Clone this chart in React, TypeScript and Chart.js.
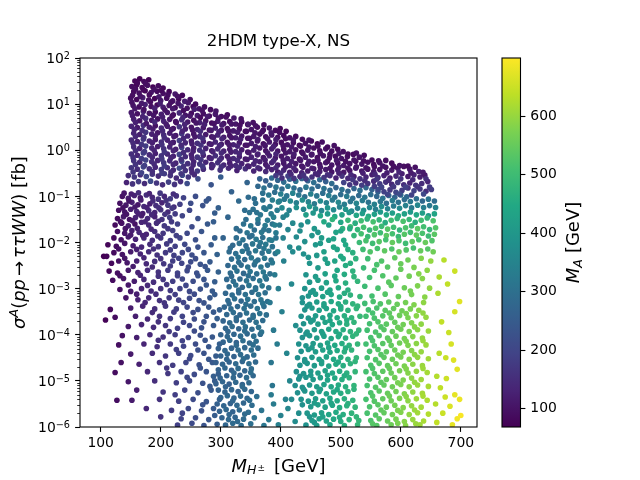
import React, { useEffect, useRef } from 'react';
import Chart from 'chart.js/auto';

// each point: [M_H± in GeV, log10 of sigma in fb, M_A in GeV]
const upperBand: number[][] = [
  [157,1.5,78],[165,1.55,70],[172,1.49,86],[180,1.53,74],
  [152,1.38,90],[160,1.42,76],[169,1.36,83],[178,1.41,98],[187,1.37,72],[196,1.4,88],[204,1.35,80],
  [155,1.27,84],[164,1.24,95],[174,1.29,78],[184,1.25,104],[194,1.28,86],[204,1.23,92],[214,1.27,75],[224,1.22,110],
  [150,1.13,96],[160,1.1,82],[170,1.14,118],[180,1.09,90],[190,1.12,76],[200,1.08,105],[210,1.13,88],[220,1.07,99],[230,1.11,80],[240,1.06,122],[249,1.1,93],
  [154,0.97,102],[164,0.94,88],[174,0.99,126],[184,0.95,94],[194,0.98,80],[204,0.93,112],[214,0.97,96],[224,0.92,86],[234,0.96,132],[244,0.91,98],[254,0.95,84],[264,0.9,108],[273,0.94,91],
  [151,0.82,112],[161,0.79,96],[171,0.84,134],[181,0.8,100],[191,0.83,87],[201,0.78,120],[211,0.82,103],[221,0.77,90],[231,0.81,140],[241,0.76,104],[251,0.8,88],[261,0.75,116],[271,0.79,95],[281,0.74,82],[291,0.78,109],[301,0.73,92],[311,0.77,84],
  [155,0.67,120],[165,0.64,104],[175,0.69,146],[185,0.65,110],[195,0.68,94],[205,0.63,128],[215,0.67,108],[225,0.62,96],[235,0.66,150],[245,0.61,112],[255,0.65,95],[265,0.6,125],[275,0.64,101],[285,0.59,88],[295,0.63,117],[305,0.58,99],[315,0.62,86],[325,0.57,106],[335,0.61,90],[345,0.56,80],[354,0.6,97],
  [151,0.52,128],[161,0.49,110],[171,0.54,156],[181,0.5,118],[191,0.53,100],[201,0.48,138],[211,0.52,114],[221,0.47,102],[231,0.51,160],[241,0.46,120],[251,0.5,101],[261,0.45,134],[271,0.49,108],[281,0.44,94],[291,0.48,125],[301,0.43,106],[311,0.47,92],[321,0.42,114],[331,0.46,97],[341,0.41,86],[351,0.45,104],[361,0.5,92],[371,0.44,83],[381,0.48,99],[391,0.43,88],[399,0.47,80],
  [155,0.37,135],[165,0.34,118],[175,0.39,165],[185,0.35,124],[195,0.38,106],[205,0.33,146],[215,0.37,120],[225,0.32,108],[235,0.36,170],[245,0.31,128],[255,0.35,107],[265,0.3,142],[275,0.34,114],[285,0.29,100],[295,0.33,132],[305,0.28,112],[315,0.32,98],[325,0.27,120],[335,0.31,103],[345,0.26,92],[355,0.3,110],[365,0.35,97],[375,0.29,88],[385,0.33,104],[395,0.28,93],[405,0.32,84],[415,0.27,98],[425,0.3,86],
  [151,0.22,140],[161,0.19,122],[171,0.24,172],[181,0.2,130],[191,0.23,112],[201,0.18,150],[211,0.22,126],[221,0.17,114],[231,0.21,176],[241,0.16,134],[251,0.2,112],[261,0.15,148],[271,0.19,120],[281,0.14,104],[291,0.18,138],[301,0.13,118],[311,0.17,102],[321,0.12,126],[331,0.16,108],[341,0.11,96],[351,0.15,116],[361,0.2,102],[371,0.14,92],[381,0.18,110],[391,0.13,98],[401,0.17,88],[411,0.12,104],[421,0.16,92],[431,0.11,84],[441,0.15,100],[451,0.2,88],[461,0.14,80],[469,0.18,94],
  [155,0.07,145],[165,0.04,128],[175,0.09,180],[185,0.05,136],[195,0.08,118],[205,0.03,156],[215,0.07,132],[225,0.02,120],[235,0.06,184],[245,0.01,140],[255,0.05,118],[265,0,154],[275,0.04,126],[285,-0.01,110],[295,0.03,144],[305,-0.02,124],[315,0.02,108],[325,-0.03,132],[335,0.01,114],[345,-0.04,102],[355,0,122],[365,0.05,108],[375,-0.01,98],[385,0.03,116],[395,-0.02,104],[405,0.02,94],[415,-0.03,110],[425,0.01,98],[435,-0.04,90],[445,0,106],[455,0.05,94],[465,-0.01,86],[475,0.03,100],[485,-0.02,92],[495,0.02,84],[504,-0.03,96],
  [151,-0.08,150],[161,-0.11,134],[171,-0.06,186],[181,-0.1,142],[191,-0.07,124],[201,-0.12,162],[211,-0.08,138],[221,-0.13,126],[231,-0.09,190],[241,-0.14,146],[251,-0.1,124],[261,-0.15,160],[271,-0.11,132],[281,-0.16,116],[291,-0.12,150],[301,-0.17,130],[311,-0.13,114],[321,-0.18,138],[331,-0.14,120],[341,-0.19,108],[351,-0.15,128],[361,-0.1,114],[371,-0.16,104],[381,-0.12,122],[391,-0.17,110],[401,-0.13,100],[411,-0.18,116],[421,-0.14,104],[431,-0.19,96],[441,-0.15,112],[451,-0.1,100],[461,-0.16,92],[471,-0.12,106],[481,-0.17,98],[491,-0.13,90],[501,-0.18,104],[511,-0.14,94],[521,-0.09,86],[531,-0.15,100],[539,-0.11,90],
  [155,-0.23,156],[165,-0.26,140],[175,-0.21,192],[185,-0.25,148],[195,-0.22,130],[205,-0.27,168],[215,-0.23,144],[225,-0.28,132],[235,-0.24,196],[245,-0.29,152],[255,-0.25,130],[265,-0.3,166],[275,-0.26,138],[285,-0.31,122],[295,-0.27,156],[305,-0.32,136],[315,-0.28,120],[325,-0.33,144],[335,-0.29,126],[345,-0.34,114],[355,-0.3,134],[365,-0.25,120],[375,-0.31,110],[385,-0.27,128],[395,-0.32,116],[405,-0.28,106],[415,-0.33,122],[425,-0.29,110],[435,-0.34,102],[445,-0.3,118],[455,-0.25,106],[465,-0.31,98],[475,-0.27,112],[485,-0.32,104],[495,-0.28,96],[505,-0.33,110],[515,-0.29,100],[525,-0.24,92],[535,-0.3,106],[545,-0.26,96],[555,-0.31,88],[565,-0.27,102],[575,-0.22,92],[585,-0.28,84],
  [151,-0.38,162],[161,-0.41,146],[171,-0.36,198],[181,-0.4,154],[191,-0.37,136],[201,-0.42,174],[211,-0.38,150],[221,-0.43,138],[231,-0.39,202],[241,-0.44,158],[251,-0.4,136],[261,-0.45,172],[271,-0.41,144],[285,-0.38,130],[299,-0.43,162],[313,-0.39,140],[327,-0.44,126],[341,-0.4,150],[355,-0.45,132],[365,-0.4,120],[375,-0.46,140],[385,-0.42,126],[395,-0.47,116],[405,-0.43,134],[415,-0.48,120],[425,-0.44,112],[435,-0.49,130],[445,-0.45,116],[455,-0.4,108],[465,-0.46,124],[475,-0.42,114],[485,-0.47,106],[495,-0.43,122],[505,-0.48,110],[515,-0.44,102],[525,-0.39,118],[535,-0.45,106],[545,-0.41,98],[555,-0.46,114],[565,-0.42,102],[575,-0.37,96],[585,-0.43,110],[595,-0.39,100],[605,-0.35,92],[615,-0.41,106],[624,-0.37,96],
  [146,-0.55,150],[156,-0.58,170],[166,-0.53,140],[176,-0.57,204],[186,-0.52,160],[196,-0.56,142],[206,-0.51,180],[216,-0.55,156],[226,-0.6,144],[236,-0.54,208],[246,-0.58,164],[256,-0.53,146],
  [392,-0.55,170],[402,-0.6,150],[412,-0.56,186],[422,-0.61,160],[432,-0.57,140],[442,-0.62,176],[452,-0.58,152],[462,-0.53,134],[472,-0.59,168],[482,-0.55,146],[492,-0.6,128],[502,-0.56,160],[512,-0.61,140],[522,-0.57,124],[532,-0.62,150],[542,-0.58,132],[552,-0.53,120],[562,-0.59,144],[572,-0.55,128],[582,-0.6,116],[592,-0.56,138],[602,-0.51,122],[612,-0.57,112],[622,-0.53,130],[632,-0.58,118],[640,-0.54,108],
  [143,-0.7,130],[153,-0.73,160],[163,-0.68,176],[173,-0.72,146],[183,-0.67,210],[193,-0.71,166],[203,-0.75,150],[213,-0.69,186],[223,-0.74,162],[233,-0.68,150],[244,-0.72,214],
  [505,-0.7,190],[515,-0.75,168],[525,-0.71,150],[535,-0.76,180],[545,-0.72,160],[555,-0.67,142],[565,-0.73,176],[575,-0.69,156],[585,-0.74,138],[595,-0.7,170],[605,-0.75,150],[615,-0.71,134],[625,-0.76,164],[635,-0.72,146],[645,-0.68,130],
  [562,-0.85,210],[572,-0.9,186],[582,-0.86,170],[592,-0.91,198],[602,-0.87,176],[612,-0.82,160],[622,-0.88,190],[632,-0.84,168],[642,-0.89,150],[651,-0.85,180],
];

const upperFill: number[][] = [
  [161,1.46,80],[175,1.44,92],
  [158,1.33,88],[171,1.31,80],[189,1.32,96],[201,1.3,84],
  [153,1.19,92],[166,1.17,100],[181,1.2,86],[197,1.16,110],[212,1.2,90],[228,1.17,98],[236,1.19,84],
  [152,1.04,100],[168,1.02,112],[183,1.05,92],[199,1.01,120],[217,1.04,94],[229,1.02,104],[246,1.03,110],[258,1,88],
  [157,0.9,108],[172,0.88,96],[190,0.91,124],[207,0.87,100],[220,0.9,112],[238,0.86,92],[256,0.89,120],[269,0.86,98],[283,0.88,88],[292,0.85,104],
  [153,0.75,116],[170,0.73,130],[188,0.76,102],[203,0.72,118],[219,0.74,96],[237,0.71,134],[249,0.74,108],[266,0.71,90],[278,0.73,114],[296,0.7,100],[309,0.72,92],[322,0.7,110],[334,0.68,96],
  [158,0.6,124],[176,0.58,110],[190,0.61,140],[209,0.57,116],[226,0.6,100],[240,0.56,132],[259,0.59,106],[273,0.56,122],[289,0.58,98],[302,0.55,114],[318,0.57,104],[332,0.54,92],[346,0.56,110],[358,0.53,98],[372,0.55,88],
  [156,0.45,130],[169,0.43,150],[187,0.46,116],[203,0.42,140],[218,0.45,112],[236,0.41,128],[253,0.44,104],[266,0.41,146],[284,0.43,110],[297,0.4,124],[313,0.42,100],[328,0.39,116],[343,0.41,94],[357,0.38,108],[369,0.4,96],[384,0.38,112],[398,0.39,90],[409,0.41,82],
  [158,0.3,138],[172,0.28,160],[191,0.31,120],[206,0.27,150],[222,0.3,118],[238,0.26,136],[257,0.29,112],[270,0.26,150],[288,0.28,116],[302,0.25,130],[318,0.27,106],[333,0.24,122],[348,0.26,98],[362,0.23,114],[378,0.25,100],[392,0.23,118],[408,0.25,94],[421,0.22,106],[436,0.24,88],[447,0.22,98],
  [154,0.15,144],[168,0.13,168],[186,0.16,126],[202,0.12,158],[217,0.15,124],[234,0.11,142],[252,0.14,118],[267,0.11,156],[284,0.13,122],[298,0.1,136],[314,0.12,112],[328,0.09,128],[344,0.11,104],[358,0.08,120],[374,0.1,106],[388,0.08,124],[404,0.1,100],[418,0.07,112],[433,0.09,94],[447,0.07,104],[462,0.09,92],[478,0.07,86],[489,0.1,96],
  [158,-0.01,150],[173,-0.03,176],[189,0,132],[206,-0.04,164],[221,-0.01,130],[238,-0.05,148],[254,-0.02,124],[270,-0.05,160],[287,-0.03,128],[301,-0.06,142],[317,-0.04,118],[331,-0.07,134],[347,-0.05,110],[362,-0.08,126],[378,-0.06,112],[392,-0.08,130],[408,-0.06,106],[422,-0.09,118],[437,-0.07,100],[452,-0.09,110],[466,-0.07,98],[482,-0.09,92],[497,-0.07,104],[512,-0.08,88],[526,-0.06,96],
  [154,-0.16,154],[168,-0.18,180],[186,-0.15,138],[202,-0.19,170],[217,-0.16,136],[234,-0.2,154],[252,-0.17,130],[267,-0.2,166],[284,-0.18,134],[298,-0.21,148],[314,-0.19,124],[328,-0.22,140],[344,-0.2,116],[358,-0.23,132],[374,-0.21,118],[388,-0.23,136],[404,-0.21,112],[418,-0.24,124],[433,-0.22,106],[447,-0.24,116],[462,-0.22,104],[478,-0.24,98],[493,-0.22,110],[508,-0.24,96],[522,-0.21,102],[538,-0.23,94],[552,-0.21,90],[563,-0.23,98],
  [158,-0.31,160],[173,-0.33,186],[189,-0.3,144],[206,-0.34,176],[221,-0.31,142],[238,-0.35,160],[254,-0.32,136],[270,-0.35,172],[287,-0.33,140],[301,-0.36,154],[317,-0.34,130],[331,-0.37,146],[347,-0.35,122],[362,-0.38,138],[378,-0.36,124],[392,-0.38,142],[408,-0.36,118],[422,-0.39,130],[437,-0.37,112],[452,-0.39,122],[466,-0.37,110],[482,-0.39,104],[497,-0.37,116],[512,-0.39,102],[526,-0.36,108],[542,-0.38,100],[556,-0.36,96],[570,-0.34,104],[588,-0.35,92],[598,-0.33,100],[612,-0.34,88],
  [154,-0.47,166],[168,-0.49,190],[186,-0.46,150],[202,-0.5,180],[217,-0.47,148],[234,-0.51,166],[252,-0.48,140],[400,-0.5,150],[417,-0.52,140],[438,-0.54,156],[458,-0.51,134],[478,-0.53,150],[497,-0.5,128],[517,-0.53,142],[537,-0.5,124],[557,-0.52,138],[577,-0.49,120],[597,-0.47,132],[617,-0.49,114],[630,-0.46,124],[637,-0.48,110],
  [520,-0.64,170],[540,-0.66,150],[560,-0.63,166],[580,-0.65,144],[600,-0.62,160],[620,-0.64,140],[642,-0.62,150],[556,-0.78,176],[568,-0.8,190],[588,-0.79,170],[608,-0.8,184],[628,-0.79,162],[648,-0.8,176],[578,-0.96,196],[598,-0.95,214],[618,-0.97,190],[638,-0.95,206],
];

const tealBand: number[][] = [
  [365,-0.62,262],[375,-0.66,250],[385,-0.6,280],[395,-0.65,268],[405,-0.69,290],[415,-0.63,258],[425,-0.67,300],[435,-0.61,276],[445,-0.66,262],[455,-0.7,294],[465,-0.64,270],[475,-0.68,256],[485,-0.72,286],
  [362,-0.78,280],[372,-0.82,300],[382,-0.76,272],[392,-0.8,310],[402,-0.84,288],[412,-0.78,320],[422,-0.82,296],[432,-0.86,280],[442,-0.8,312],[452,-0.84,292],[462,-0.78,276],[472,-0.83,306],[482,-0.87,286],[492,-0.81,270],[502,-0.85,300],[512,-0.89,282],[522,-0.83,266],[532,-0.87,296],[542,-0.81,278],[552,-0.85,262],[562,-0.9,256],
  [370,-0.93,300],[380,-0.97,320],[390,-0.91,292],[400,-0.95,336],[410,-0.99,310],[420,-0.93,346],[430,-0.97,318],[440,-1.01,300],[450,-0.95,340],[460,-0.99,314],[470,-0.93,296],[480,-0.98,332],[490,-1.02,308],[500,-0.96,290],[510,-1,326],[520,-1.04,300],[530,-0.98,282],[540,-1.02,314],[550,-0.96,294],[560,-1,276],[570,-1.04,306],[580,-0.98,284],[590,-1.02,268],[600,-0.97,296],[610,-1.01,274],
  [386,-1.08,330],[396,-1.12,350],[406,-1.06,320],[416,-1.1,364],[426,-1.14,338],[436,-1.08,372],[446,-1.12,346],[456,-1.16,326],[466,-1.1,366],[476,-1.14,340],[486,-1.08,322],[496,-1.13,358],[506,-1.17,332],[516,-1.11,314],[526,-1.15,350],[536,-1.09,326],[546,-1.13,306],[556,-1.17,340],[566,-1.11,316],[576,-1.15,298],[586,-1.09,330],[596,-1.13,306],[606,-1.07,290],[616,-1.11,318],[626,-1.05,296],[636,-1.1,280],[646,-1.06,310],[656,-1.1,290],
  [402,-1.25,360],[414,-1.3,340],[426,-1.24,384],[438,-1.28,356],[448,-1.22,400],[458,-1.27,372],[468,-1.31,352],[478,-1.25,394],[488,-1.29,366],[498,-1.23,346],[508,-1.28,388],[518,-1.32,360],[528,-1.26,340],[538,-1.3,380],[548,-1.24,352],[558,-1.28,334],[568,-1.22,372],[578,-1.27,346],[588,-1.21,328],[598,-1.26,364],[608,-1.2,340],[618,-1.25,322],[628,-1.19,356],[638,-1.24,334],[648,-1.2,318],[658,-1.24,346],
  [442,-1.4,420],[454,-1.36,396],[466,-1.42,436],[478,-1.38,410],[490,-1.44,448],[502,-1.4,420],[514,-1.35,400],[526,-1.41,440],[536,-1.37,414],[546,-1.43,452],[556,-1.39,424],[566,-1.34,404],[576,-1.4,444],[586,-1.36,418],[596,-1.42,456],[606,-1.38,428],[616,-1.34,406],[626,-1.4,446],[636,-1.36,420],[646,-1.42,400],[656,-1.38,436],
  [472,-1.55,450],[486,-1.5,476],[500,-1.56,440],[512,-1.52,488],[524,-1.58,460],[534,-1.53,500],[544,-1.49,470],[554,-1.55,512],[564,-1.51,480],[574,-1.57,458],[584,-1.52,500],[594,-1.48,474],[604,-1.54,516],[614,-1.5,486],[624,-1.56,462],[634,-1.52,504],[644,-1.47,478],[654,-1.53,520],
  [503,-1.7,470],[516,-1.66,496],[528,-1.72,482],[538,-1.67,510],[548,-1.73,486],[558,-1.69,520],[568,-1.65,494],[578,-1.71,530],[588,-1.67,502],[598,-1.73,480],[608,-1.68,520],[618,-1.64,496],[628,-1.7,536],[638,-1.66,506],[648,-1.72,488],[658,-1.68,528],
  [522,-1.85,480],[534,-1.81,508],[545,-1.87,490],[556,-1.83,524],[566,-1.79,500],[576,-1.85,536],[586,-1.81,510],[596,-1.87,490],[606,-1.82,530],[616,-1.78,504],[626,-1.84,540],[636,-1.8,514],[646,-1.86,496],[656,-1.82,534],
  [531,-2,494],[542,-1.96,514],[553,-2.02,500],[564,-1.98,532],[575,-1.94,510],[586,-2,546],[597,-1.96,520],[608,-2.02,500],[619,-1.98,540],[630,-1.94,516],[641,-2,550],[652,-1.96,524],
  [537,-2.15,500],[549,-2.2,524],[561,-2.13,510],[573,-2.18,540],[585,-2.14,520],[597,-2.2,552],[609,-2.16,528],[621,-2.12,510],[633,-2.18,548],[645,-2.14,530],[654,-2.2,560],
  [348,-1.35,300],[362,-1.5,318],[375,-1.28,330],[388,-1.45,340],[398,-1.62,322],[372,-1.72,310],[410,-1.4,352],[420,-1.58,360],[432,-1.75,372],[445,-1.55,384],[456,-1.7,398],[468,-1.9,410],[480,-1.62,420],[492,-1.78,430],[505,-1.95,440],[515,-1.7,452],[458,-2.05,400],[472,-2.2,420],[488,-2.1,436],[500,-2.3,446],[512,-2.15,460],[525,-2.35,470],[438,-2.25,380],[448,-2.45,392],[462,-2.55,404],[478,-2.45,424],[494,-2.6,440],[508,-2.5,456],[520,-2.62,470],[415,-2.1,362],[404,-1.9,346],[385,-1.95,330],[352,-1.85,296],[366,-2,316],[395,-2.2,340],
];

const tealFill: number[][] = [
  [346,-1.02,286],[358,-1.15,296],[370,-1.08,306],[382,-1.22,318],[394,-1.3,330],[354,-1.28,300],[366,-1.4,312],[378,-1.52,322],[390,-1.62,334],[404,-1.45,344],[342,-1.5,292],[360,-1.35,304],[384,-1.38,326],[398,-1.1,336],[372,-1.25,314],
  [412,-1.72,350],[426,-1.88,366],[440,-1.98,378],[452,-1.85,392],[466,-2.02,404],[480,-1.95,420],[494,-2.15,432],[508,-2.05,446],[520,-2.22,462],[430,-2.12,372],[446,-2.32,388],[460,-2.28,400],[474,-2.36,416],[490,-2.4,432],[504,-2.35,448],[516,-2.45,462],[434,-1.62,370],[462,-1.78,398],[488,-1.92,426],[500,-1.75,438],
];

const leftFan: number[][] = [
  [136,-1,100],[146,-1.04,118],[156,-0.98,130],[166,-1.03,112],[176,-0.97,150],[186,-1.02,136],[196,-1.06,160],[206,-1,140],[216,-1.05,176],[226,-0.99,156],[238,-1.03,190],[258,-1,214],[280,-1.05,236],
  [132,-1.15,96],[142,-1.19,110],[152,-1.13,126],[162,-1.18,106],[172,-1.22,140],[182,-1.16,124],[192,-1.2,150],[202,-1.14,130],[212,-1.19,168],[222,-1.23,148],[232,-1.17,184],[270,-1.2,226],
  [130,-1.3,92],[140,-1.34,104],[150,-1.28,120],[160,-1.33,138],[170,-1.37,118],[180,-1.31,146],[190,-1.35,130],[200,-1.29,160],[212,-1.34,142],[224,-1.38,176],[248,-1.3,200],[290,-1.36,250],
  [128,-1.48,88],[138,-1.44,112],[148,-1.5,100],[158,-1.46,130],[168,-1.42,116],[178,-1.48,144],[190,-1.44,124],[202,-1.5,158],[215,-1.46,178],[236,-1.42,196],[262,-1.48,222],
  [124,-1.62,84],[135,-1.58,100],[146,-1.64,118],[157,-1.6,96],[168,-1.56,134],[180,-1.62,140],[193,-1.58,152],[206,-1.64,170],[228,-1.6,190],[252,-1.66,210],[278,-1.6,240],
  [128,-1.76,94],[140,-1.8,108],[152,-1.74,122],[164,-1.78,136],[176,-1.82,128],[190,-1.76,156],[204,-1.8,166],[220,-1.74,184],[244,-1.8,206],[268,-1.76,232],
  [122,-1.9,82],[134,-1.94,98],[146,-1.88,112],[158,-1.93,128],[172,-1.9,142],[186,-1.95,150],[200,-1.9,164],[216,-1.96,180],[232,-1.9,196],[258,-1.94,220],[290,-1.9,258],
  [105,-2.3,70],[112,-2.05,78],[126,-2.08,90],[140,-2.02,104],[154,-2.07,120],[168,-2.1,136],[182,-2.04,148],[196,-2.09,162],[210,-2.03,176],[224,-2.08,186],[240,-2.04,204],[262,-2.1,224],[284,-2.05,248],
  [110,-2.3,74],[122,-2.22,86],[136,-2.26,100],[150,-2.2,114],[166,-2.25,130],[180,-2.2,146],[194,-2.27,158],[208,-2.22,172],[222,-2.28,184],[236,-2.22,198],[252,-2.27,214],[272,-2.22,236],[294,-2.26,262],
  [118,-2.45,82],[130,-2.4,94],[144,-2.44,108],[160,-2.4,126],[176,-2.46,140],[190,-2.41,154],[205,-2.46,168],[220,-2.4,182],[235,-2.45,196],[250,-2.42,210],[266,-2.47,228],[282,-2.42,244],
  [114,-2.62,80],[128,-2.66,92],[146,-2.6,110],[162,-2.65,128],[178,-2.6,144],[196,-2.64,160],[212,-2.6,176],[228,-2.66,190],[244,-2.61,206],[260,-2.66,222],[278,-2.6,240],[296,-2.64,262],
  [120,-2.82,86],[138,-2.78,102],[156,-2.84,118],[172,-2.8,136],[188,-2.86,150],[204,-2.8,168],[220,-2.84,182],[236,-2.79,198],[254,-2.84,216],[272,-2.8,232],[290,-2.85,252],
  [132,-3.02,96],[150,-3.06,112],[168,-3,130],[184,-3.05,146],[200,-3,160],[216,-3.04,176],[232,-3,190],[248,-3.06,206],[266,-3.01,226],[286,-3.05,246],
  [142,-3.2,104],[162,-3.24,124],[180,-3.2,140],[198,-3.26,158],[214,-3.2,172],[230,-3.25,188],[248,-3.21,206],[264,-3.26,222],[282,-3.2,240],
  [116,-3.45,80],[150,-3.42,114],[170,-3.38,132],[190,-3.44,150],[208,-3.38,168],[226,-3.44,184],[244,-3.4,200],[262,-3.45,220],[280,-3.4,238],[298,-3.46,258],
  [108,-3.68,72],[124,-3.62,88],[158,-3.6,122],[178,-3.66,138],[198,-3.6,158],[216,-3.65,176],[236,-3.6,194],[256,-3.66,212],[276,-3.6,232],[294,-3.65,254],
  [146,-3.82,110],[168,-3.78,130],[188,-3.84,146],[208,-3.8,166],[228,-3.86,186],[248,-3.8,204],[268,-3.85,224],[288,-3.8,244],
  [136,-4.02,98],[160,-4.06,120],[182,-4,140],[204,-4.05,160],[224,-4,180],[246,-4.06,200],[266,-4.01,222],[286,-4.05,240],
  [130,-4.22,92],[172,-4.2,132],[194,-4.26,152],[216,-4.2,172],[238,-4.25,194],[258,-4.2,214],[280,-4.26,236],[298,-4.2,256],
  [150,-4.42,112],[186,-4.4,146],[208,-4.46,166],[230,-4.4,186],[250,-4.45,206],[272,-4.4,228],[292,-4.46,250],
  [134,-4.6,96],[164,-4.64,124],[198,-4.6,156],[220,-4.66,178],[242,-4.6,198],[264,-4.65,220],[286,-4.6,242],
  [124,-4.82,88],[178,-4.8,138],[212,-4.84,170],[234,-4.8,190],[256,-4.86,210],[276,-4.8,232],[296,-4.85,254],
  [146,-5.02,108],[190,-5,150],[226,-5.04,182],[248,-5,202],[270,-5.05,226],[290,-5,246],
  [160,-5.2,122],[204,-5.24,164],[240,-5.2,196],[262,-5.26,218],[284,-5.2,240],
  [127,-5.42,90],[152,-5.42,114],[198,-5.4,158],[230,-5.44,186],[254,-5.4,210],[276,-5.45,232],[298,-5.4,256],
  [176,-5.6,136],[218,-5.64,176],[246,-5.6,202],[268,-5.65,224],[288,-5.6,246],
  [200,-5.78,160],[234,-5.82,192],[258,-5.8,214],[280,-5.84,236],
  [228,-5.96,186],[252,-5.92,210],[272,-5.97,230],[294,-5.94,252],
];

const fanFill: number[][] = [
  [139,-0.93,106],[151,-0.95,124],[163,-0.92,146],[181,-0.94,132],[199,-0.93,170],[221,-0.95,150],[147,-1.1,104],[167,-1.08,122],[187,-1.1,144],[209,-1.09,160],
  [137,-1.25,98],[157,-1.23,114],[177,-1.24,130],[197,-1.25,152],[219,-1.26,170],[143,-1.39,102],[163,-1.38,126],[185,-1.4,138],[207,-1.39,162],
  [133,-1.55,92],[153,-1.53,110],[174,-1.55,136],[196,-1.54,146],[218,-1.55,174],[141,-1.7,104],[161,-1.69,120],[184,-1.71,140],[212,-1.7,170],
  [150,-1.84,114],[170,-1.85,132],[195,-1.86,154],[226,-1.85,188],[130,-2.14,96],[160,-2.15,124],[188,-2.14,152],[216,-2.16,178],[246,-2.15,206],
  [140,-2.34,104],[172,-2.33,134],[200,-2.35,160],[230,-2.34,190],[258,-2.35,216],[154,-2.52,116],[186,-2.53,146],[216,-2.51,178],[246,-2.53,204],[274,-2.52,232],
  [132,-2.72,94],[166,-2.71,130],[196,-2.73,158],[228,-2.72,186],[262,-2.72,224],[146,-2.92,108],[178,-2.93,140],[210,-2.91,168],[242,-2.93,200],[276,-2.92,236],
  [160,-3.12,120],[192,-3.12,152],[224,-3.13,182],[256,-3.12,212],[290,-3.13,248],[174,-3.3,136],[206,-3.31,164],[238,-3.3,196],[272,-3.31,230],
  [186,-3.52,146],[222,-3.51,180],[254,-3.52,208],[288,-3.51,244],[196,-3.72,156],[238,-3.73,196],[272,-3.72,228],[214,-3.93,172],[256,-3.92,212],
  [196,-4.12,154],[236,-4.13,192],[274,-4.12,230],[226,-4.32,184],[262,-4.33,222],[248,-4.52,204],[280,-4.53,236],[210,-4.72,168],[266,-4.72,226],
  [244,-4.92,202],[282,-5.12,240],[224,-5.3,182],[270,-5.52,228],[236,-5.7,194],[290,-5.75,250],
];

const gapPoints: number[][] = [
  [262,-0.62,210],[284,-0.75,232],[300,-0.58,250],[318,-0.9,262],[276,-1.1,236],[296,-1.25,258],[312,-1.45,272],[330,-1.1,282],[344,-0.7,270],[326,-1.7,286],[304,-1.9,268],[250,-1.15,214],[340,-1.3,290],[356,-1.05,296],[288,-1.55,252],
];

const blueLobe: number[][] = [
  [338,-1.6,300],[350,-1.64,316],[362,-1.58,292],[374,-1.63,322],[386,-1.6,306],
  [332,-1.75,288],[344,-1.79,310],[356,-1.73,296],[368,-1.78,320],[380,-1.74,304],[392,-1.79,326],
  [326,-1.9,292],[337,-1.94,306],[348,-1.88,284],[359,-1.93,318],[370,-1.89,300],[381,-1.94,326],[392,-1.9,310],
  [320,-2.06,280],[331,-2.02,300],[342,-2.07,290],[353,-2.03,312],[364,-2.08,298],[375,-2.04,320],[386,-2.09,306],
  [314,-2.2,286],[325,-2.24,296],[336,-2.19,310],[347,-2.23,292],[358,-2.18,316],[369,-2.23,300],[380,-2.19,322],[391,-2.24,308],
  [318,-2.36,290],[329,-2.32,306],[340,-2.37,284],[351,-2.33,312],[362,-2.38,296],[373,-2.34,318],[384,-2.38,304],
  [312,-2.5,278],[323,-2.54,296],[334,-2.49,286],[345,-2.53,306],[356,-2.48,292],[367,-2.53,314],[378,-2.49,300],
  [316,-2.66,288],[327,-2.62,302],[338,-2.67,280],[349,-2.63,310],[360,-2.68,294],[371,-2.64,316],[382,-2.68,300],
  [310,-2.8,280],[321,-2.84,294],[332,-2.79,284],[343,-2.83,304],[354,-2.78,290],[365,-2.83,312],[376,-2.79,298],
  [314,-2.96,286],[325,-2.92,300],[336,-2.97,278],[347,-2.93,308],[358,-2.98,292],[369,-2.94,314],[380,-2.98,302],
  [308,-3.1,276],[319,-3.14,290],[330,-3.09,282],[341,-3.13,300],[352,-3.08,288],[363,-3.13,308],[374,-3.09,296],
  [312,-3.26,282],[323,-3.22,296],[334,-3.27,276],[345,-3.23,304],[356,-3.28,290],[367,-3.24,310],[378,-3.28,298],
  [306,-3.4,272],[317,-3.44,288],[328,-3.39,280],[339,-3.43,298],[350,-3.38,286],[361,-3.43,304],[372,-3.39,294],
  [310,-3.56,278],[321,-3.52,292],[332,-3.57,274],[343,-3.53,300],[354,-3.58,288],[365,-3.54,306],[376,-3.57,296],
  [304,-3.7,270],[315,-3.74,284],[326,-3.69,276],[337,-3.73,294],[348,-3.68,282],[359,-3.73,300],[370,-3.69,290],
  [308,-3.86,274],[319,-3.82,288],[330,-3.87,272],[341,-3.83,296],[352,-3.88,284],[363,-3.84,302],
  [300,-4,266],[311,-4.04,280],[322,-3.99,274],[333,-4.03,290],[344,-3.98,280],[355,-4.03,298],[366,-3.99,288],
  [304,-4.16,270],[315,-4.12,284],[326,-4.17,268],[337,-4.13,292],[348,-4.18,280],[359,-4.14,296],
  [296,-4.3,262],[307,-4.34,276],[318,-4.29,270],[329,-4.33,286],[340,-4.28,276],[351,-4.33,294],[362,-4.29,284],
  [300,-4.46,266],[311,-4.42,280],[322,-4.47,264],[333,-4.43,288],[344,-4.48,276],[355,-4.44,292],
  [292,-4.6,258],[303,-4.64,272],[314,-4.59,266],[325,-4.63,282],[336,-4.58,272],[347,-4.63,290],[358,-4.59,280],
  [296,-4.76,262],[307,-4.72,276],[318,-4.77,262],[329,-4.73,284],[340,-4.78,272],[351,-4.74,288],
  [288,-4.9,254],[299,-4.94,268],[310,-4.89,262],[321,-4.93,278],[332,-4.88,268],[343,-4.93,286],[354,-4.89,276],
  [292,-5.06,258],[303,-5.02,272],[314,-5.07,258],[325,-5.03,280],[336,-5.08,268],[347,-5.04,284],
  [296,-5.2,262],[307,-5.24,268],[318,-5.19,274],[329,-5.23,264],[340,-5.18,282],[351,-5.23,272],
  [300,-5.36,266],[311,-5.32,278],[322,-5.37,270],[333,-5.33,286],[344,-5.38,276],[360,-5.34,296],
  [294,-5.5,260],[305,-5.54,272],[316,-5.49,264],[327,-5.53,282],[338,-5.48,274],[352,-5.53,290],
  [298,-5.66,264],[309,-5.62,276],[320,-5.67,268],[331,-5.63,284],[346,-5.68,292],[368,-5.64,310],
  [302,-5.8,268],[313,-5.84,280],[324,-5.79,272],[338,-5.83,288],[356,-5.8,300],[380,-5.84,320],
  [308,-5.96,274],[320,-5.92,284],[334,-5.97,290],[350,-5.93,298],[372,-5.97,316],
  [382,-3.3,318],[388,-3.9,322],[384,-4.6,316],[390,-2.7,326],[386,-5.1,312],[394,-4.2,330],[396,-3,334],
];

const lobeFill: number[][] = [
  [316,-2.12,284],[344,-2.14,298],[372,-2.13,316],[330,-2.43,292],[358,-2.42,304],[386,-2.44,318],[318,-2.73,282],[346,-2.72,296],[374,-2.74,312],[330,-3.03,288],[358,-3.02,302],
  [314,-3.33,280],[342,-3.34,294],[370,-3.32,308],[326,-3.63,284],[354,-3.62,298],[312,-3.93,276],[340,-3.92,290],[368,-3.94,304],[326,-4.23,282],[354,-4.22,296],
  [310,-4.53,272],[338,-4.52,286],[322,-4.83,278],[350,-4.82,292],[308,-5.13,268],[336,-5.12,284],[320,-5.43,276],[348,-5.42,290],[314,-5.73,274],[340,-5.72,288],[328,-5.88,282],
];

const holePoints: number[][] = [
  [405,-2.4,344],[418,-2.9,360],[402,-3.5,340],[425,-3.8,372],[410,-4.4,352],[432,-4.9,380],[415,-5,356],[420,-2.2,366],[436,-3.2,384],[408,-5.4,348],
  [388,-5.5,330],[400,-5.75,342],[412,-5.6,356],[424,-5.88,368],[436,-5.52,380],[448,-5.78,392],[396,-5.95,338],[418,-5.4,362],[442,-5.96,386],[430,-5.7,374],[456,-5.9,398],[384,-5.3,324],
];

const greenLobe: number[][] = [
  [442,-2.7,392],[458,-2.74,410],[474,-2.68,426],[490,-2.73,440],[506,-2.69,456],[522,-2.74,474],
  [448,-2.86,400],[462,-2.82,418],[476,-2.87,428],[492,-2.83,446],[508,-2.88,462],[528,-2.84,480],
  [440,-3,390],[454,-3.04,404],[468,-2.99,420],[482,-3.03,434],[496,-2.98,450],[512,-3.03,464],
  [446,-3.16,398],[458,-3.12,410],[470,-3.17,424],[484,-3.13,438],[498,-3.18,452],[516,-3.14,470],[532,-3.17,484],
  [436,-3.3,386],[448,-3.34,400],[460,-3.29,414],[472,-3.33,426],[484,-3.28,440],[496,-3.33,452],[508,-3.29,464],[520,-3.33,476],
  [440,-3.46,390],[452,-3.42,404],[464,-3.47,418],[476,-3.43,430],[488,-3.48,444],[500,-3.44,456],[512,-3.47,468],[526,-3.43,482],
  [434,-3.6,384],[446,-3.64,398],[458,-3.59,410],[470,-3.63,424],[482,-3.58,436],[494,-3.63,450],[506,-3.59,462],[518,-3.63,474],[532,-3.6,488],
  [438,-3.76,388],[450,-3.72,402],[462,-3.77,414],[474,-3.73,428],[486,-3.78,440],[498,-3.74,454],[510,-3.77,466],[522,-3.73,478],
  [432,-3.9,382],[444,-3.94,396],[456,-3.89,408],[468,-3.93,422],[480,-3.88,434],[492,-3.93,448],[504,-3.89,460],[516,-3.93,472],[530,-3.9,486],
  [436,-4.06,386],[448,-4.02,400],[460,-4.07,412],[472,-4.03,426],[484,-4.08,438],[496,-4.04,452],[508,-4.07,464],[520,-4.03,476],
  [430,-4.2,380],[442,-4.24,394],[454,-4.19,406],[466,-4.23,420],[478,-4.18,432],[490,-4.23,446],[502,-4.19,458],[514,-4.23,470],[528,-4.2,484],
  [434,-4.36,384],[446,-4.32,398],[458,-4.37,410],[470,-4.33,424],[482,-4.38,436],[494,-4.34,450],[506,-4.37,462],[518,-4.33,474],
  [428,-4.5,378],[440,-4.54,392],[452,-4.49,404],[464,-4.53,418],[476,-4.48,430],[488,-4.53,444],[500,-4.49,456],[512,-4.53,468],[526,-4.5,482],
  [432,-4.66,382],[444,-4.62,396],[456,-4.67,408],[468,-4.63,422],[480,-4.68,434],[492,-4.64,448],[504,-4.67,460],[516,-4.63,472],
  [426,-4.8,376],[438,-4.84,390],[450,-4.79,402],[462,-4.83,416],[474,-4.78,428],[486,-4.83,442],[498,-4.79,454],[510,-4.83,466],[524,-4.8,480],
  [430,-4.96,380],[442,-4.92,394],[454,-4.97,406],[466,-4.93,420],[478,-4.98,432],[490,-4.94,446],[502,-4.97,458],[514,-4.93,470],
  [424,-5.1,374],[436,-5.14,388],[448,-5.09,400],[460,-5.13,414],[472,-5.08,426],[484,-5.13,440],[496,-5.09,452],[508,-5.13,464],[522,-5.1,478],
  [428,-5.26,378],[440,-5.22,392],[452,-5.27,404],[464,-5.23,418],[476,-5.28,430],[488,-5.24,444],[500,-5.27,456],[512,-5.23,468],
  [434,-5.4,386],[446,-5.44,398],[458,-5.39,412],[470,-5.43,424],[482,-5.38,438],[494,-5.43,450],[506,-5.39,462],[520,-5.42,476],
  [450,-5.56,402],[462,-5.52,416],[474,-5.57,428],[486,-5.53,442],[498,-5.58,454],[510,-5.54,466],[524,-5.57,480],
  [444,-5.7,396],[456,-5.74,410],[468,-5.69,422],[480,-5.73,436],[492,-5.68,448],[504,-5.73,460],[518,-5.7,474],
  [452,-5.86,404],[464,-5.82,418],[476,-5.87,430],[488,-5.83,444],[500,-5.88,456],[514,-5.84,470],[530,-5.86,486],
  [460,-5.97,412],[482,-5.95,438],[506,-5.97,462],[528,-5.95,484],
];

const greenFill: number[][] = [
  [450,-3.08,402],[478,-3.08,430],[506,-3.1,458],[444,-3.38,396],[472,-3.38,424],[500,-3.39,452],[528,-3.38,480],[454,-3.68,406],[482,-3.69,434],[510,-3.68,462],
  [442,-3.98,394],[470,-3.98,422],[498,-3.99,450],[526,-3.98,478],[452,-4.28,404],[480,-4.28,432],[508,-4.29,460],[440,-4.58,392],[468,-4.58,420],[496,-4.59,448],[524,-4.58,476],
  [450,-4.88,402],[478,-4.88,430],[506,-4.89,458],[438,-5.18,390],[466,-5.18,418],[494,-5.19,446],[522,-5.18,474],[456,-5.48,410],[484,-5.48,436],[512,-5.49,464],
  [470,-5.78,424],[498,-5.79,452],[526,-5.78,480],
];

const rightLobe: number[][] = [
  [545,-2.35,500],[568,-2.4,524],[590,-2.33,540],[612,-2.38,560],[634,-2.34,580],[650,-2.4,596],
  [538,-2.55,492],[556,-2.6,512],[578,-2.53,532],[600,-2.58,550],[622,-2.54,570],[644,-2.6,590],
  [548,-2.76,504],[570,-2.72,524],[592,-2.77,544],[614,-2.73,562],[636,-2.78,584],
  [540,-2.95,496],[562,-2.99,516],[584,-2.93,536],[606,-2.98,556],[628,-2.94,576],[648,-2.99,594],
  [552,-3.16,508],[574,-3.12,528],[596,-3.17,548],[618,-3.13,566],[640,-3.18,586],
  [540,-3.32,500],[554,-3.28,514],[566,-3.33,524],[580,-3.29,540],[594,-3.34,552],[608,-3.3,566],[622,-3.35,578],[638,-3.3,592],
  [546,-3.46,506],[560,-3.42,518],[574,-3.47,534],[588,-3.43,546],[602,-3.48,560],[616,-3.44,572],[630,-3.47,586],
  [542,-3.6,502],[556,-3.64,516],[570,-3.59,530],[584,-3.63,542],[598,-3.58,556],[612,-3.63,570],[626,-3.59,584],[642,-3.62,598],
  [548,-3.76,508],[562,-3.72,522],[576,-3.77,536],[590,-3.73,548],[604,-3.78,562],[618,-3.74,576],[634,-3.77,590],
  [544,-3.9,506],[558,-3.94,518],[572,-3.89,532],[586,-3.93,546],[600,-3.88,560],[614,-3.93,572],[628,-3.89,588],[646,-3.92,604],
  [550,-4.06,512],[564,-4.02,524],[578,-4.07,540],[592,-4.03,552],[606,-4.08,566],[620,-4.04,580],[636,-4.07,596],
  [542,-4.2,506],[556,-4.24,518],[570,-4.19,532],[584,-4.23,546],[598,-4.18,560],[612,-4.23,574],[626,-4.19,588],[642,-4.22,604],
  [548,-4.36,512],[562,-4.32,526],[576,-4.37,540],[590,-4.33,554],[604,-4.38,568],[618,-4.34,582],[634,-4.37,598],
  [544,-4.5,510],[558,-4.54,522],[572,-4.49,538],[586,-4.53,550],[600,-4.48,566],[614,-4.53,580],[628,-4.49,594],[646,-4.52,610],
  [550,-4.66,516],[564,-4.62,530],[578,-4.67,544],[592,-4.63,558],[606,-4.68,572],[620,-4.64,588],[636,-4.67,602],
  [542,-4.8,510],[556,-4.84,524],[570,-4.79,538],[584,-4.83,552],[598,-4.78,566],[612,-4.83,582],[626,-4.79,596],[644,-4.82,612],
  [548,-4.96,516],[562,-4.92,530],[576,-4.97,546],[590,-4.93,560],[604,-4.98,574],[618,-4.94,590],[634,-4.97,606],
  [544,-5.1,512],[558,-5.14,528],[572,-5.09,542],[586,-5.13,556],[600,-5.08,572],[614,-5.13,586],[628,-5.09,602],[646,-5.12,618],
  [550,-5.26,518],[564,-5.22,534],[578,-5.27,548],[592,-5.23,562],[606,-5.28,578],[620,-5.24,594],[636,-5.27,610],
  [542,-5.4,512],[556,-5.44,528],[570,-5.39,542],[584,-5.43,558],[598,-5.38,574],[612,-5.43,590],[626,-5.39,606],[644,-5.42,622],
  [548,-5.56,518],[562,-5.52,534],[576,-5.57,550],[590,-5.53,566],[604,-5.58,580],[618,-5.54,596],[634,-5.57,612],
  [544,-5.7,514],[558,-5.74,530],[572,-5.69,546],[586,-5.73,562],[600,-5.68,578],[614,-5.73,594],[628,-5.69,610],[646,-5.72,626],
  [550,-5.86,520],[564,-5.82,536],[578,-5.87,552],[592,-5.83,568],[606,-5.88,584],[620,-5.84,600],[638,-5.87,616],
  [560,-5.97,530],[584,-5.95,558],[608,-5.97,584],[632,-5.95,608],
];

const rightFill: number[][] = [
  [553,-3.53,512],[581,-3.53,540],[609,-3.54,568],[637,-3.53,594],[567,-3.83,528],[595,-3.84,556],[623,-3.83,584],[553,-4.13,516],[581,-4.13,544],[609,-4.14,572],[637,-4.13,600],
  [567,-4.43,532],[595,-4.44,560],[623,-4.43,590],[553,-4.73,520],[581,-4.73,548],[609,-4.74,578],[637,-4.73,606],[567,-5.03,538],[595,-5.04,568],[623,-5.03,596],
  [553,-5.33,526],[581,-5.33,556],[609,-5.34,586],[637,-5.33,614],[567,-5.63,544],[595,-5.64,574],[623,-5.63,604],[553,-5.93,530],[595,-5.92,572],[625,-5.93,602],
  [560,-2.48,516],[600,-2.46,552],[630,-2.68,580],[580,-2.86,536],[616,-3.05,566],
];

const yellowTail: number[][] = [
  [672,-2.38,630],[690,-2.62,650],[698,-3.28,670],[690,-3.5,660],[668,-3.72,640],[680,-3.95,648],[684,-4.2,660],[664,-4.4,630],[688,-4.55,668],
  [694,-4.75,672],[676,-4.95,652],[666,-5.15,636],[690,-5.3,676],[698,-5.4,682],[682,-5.55,664],[670,-5.7,648],[694,-5.82,688],[686,-5.95,676],
  [660,-5.9,640],[662,-3.1,620],[678,-2.9,640],[660,-4.9,626],[674,-5.35,650],[664,-2.75,618],[700,-5.75,694],[658,-5.5,628],[675,-4.5,648],
];

const xTicks = [100, 200, 300, 400, 500, 600, 700];
const yDecades = [-6, -5, -4, -3, -2, -1, 0, 1, 2];
const colorTicks = [100, 200, 300, 400, 500, 600];
const maMin = 67.5;
const maMax = 699;

const viridisStops = ['#440154', '#482475', '#414487', '#355f8d', '#2a788e', '#21918c', '#22a884', '#44bf70', '#7ad151', '#bddf26', '#fde725'];

const hexRgb = (h: string) => [1, 3, 5].map((i) => parseInt(h.slice(i, i + 2), 16));

const viridis = (t: number) => {
  const c = Math.min(1, Math.max(0, t)) * 10;
  const i = Math.min(9, Math.floor(c));
  const f = c - i;
  const a = hexRgb(viridisStops[i]);
  const b = hexRgb(viridisStops[i + 1]);
  const m = a.map((v, k) => Math.round(v + (b[k] - v) * f));
  return `rgb(${m[0]},${m[1]},${m[2]})`;
};

const FONT = "'DejaVu Sans'";

type Run = { text: string; size: number; italic?: boolean; dy?: number; gap?: number };

// draws a row of text pieces (math-like label) centred on cx, baseline y
const drawRuns = (ctx: CanvasRenderingContext2D, runs: Run[], cx: number, y: number) => {
  const widths = runs.map((r) => {
    ctx.font = `${r.italic ? 'italic ' : ''}${r.size}px ${FONT}`;
    return ctx.measureText(r.text).width + (r.gap || 0);
  });
  let x = cx - widths.reduce((s, w) => s + w, 0) / 2;
  runs.forEach((r, i) => {
    ctx.font = `${r.italic ? 'italic ' : ''}${r.size}px ${FONT}`;
    ctx.fillText(r.text, x + (r.gap || 0), y + (r.dy || 0));
    x += widths[i];
  });
};

const decorations = {
  id: 'decorations',
  afterDraw(chart: any) {
    const { ctx, chartArea: a, scales } = chart;
    const ys = scales.y;
    ctx.save();
    ctx.fillStyle = '#000';
    ctx.strokeStyle = '#000';

    // minor log ticks
    ctx.lineWidth = 0.8;
    for (let d = -6; d < 2; d++) {
      for (let m = 2; m <= 9; m++) {
        const py = Math.round(ys.getPixelForValue(m * Math.pow(10, d))) + 0.5;
        ctx.beginPath();
        ctx.moveTo(a.left - 2.8, py);
        ctx.lineTo(a.left, py);
        ctx.stroke();
      }
    }

    // frame
    ctx.lineWidth = 1.1;
    ctx.strokeRect(a.left, a.top, a.right - a.left, a.bottom - a.top);

    // y tick labels 10^k
    ctx.textAlign = 'left';
    ctx.textBaseline = 'alphabetic';
    yDecades.forEach((k) => {
      const py = ys.getPixelForValue(Math.pow(10, k));
      const exp = k < 0 ? '\u2212' + -k : String(k);
      ctx.font = `13.9px ${FONT}`;
      const w1 = ctx.measureText('10').width;
      ctx.font = `9.7px ${FONT}`;
      const w2 = ctx.measureText(exp).width;
      const x0 = a.left - 10 - w1 - w2;
      ctx.font = `13.9px ${FONT}`;
      ctx.fillText('10', x0, py + 5.2);
      ctx.font = `9.7px ${FONT}`;
      ctx.fillText(exp, x0 + w1, py + 1.2);
    });

    // title
    drawRuns(ctx, [{ text: '2HDM type-X, NS', size: 16.7 }], (a.left + a.right) / 2, 45.5);

    // x axis label
    drawRuns(
      ctx,
      [
        { text: 'M', size: 18, italic: true },
        { text: 'H', size: 12.6, italic: true, dy: 2.8 },
        { text: '\u00b1', size: 9, dy: -0.5, gap: 1 },
        { text: '[GeV]', size: 18, gap: 9 },
      ],
      (a.left + a.right) / 2,
      471.5
    );

    // y axis label
    ctx.save();
    ctx.translate(25, (a.top + a.bottom) / 2);
    ctx.rotate(-Math.PI / 2);
    drawRuns(
      ctx,
      [
        { text: '\u03c3', size: 18, italic: true },
        { text: 'A', size: 12.6, italic: true, dy: -7.5 },
        { text: '(', size: 18 },
        { text: 'pp', size: 18, italic: true },
        { text: '\u2192', size: 18, gap: 3 },
        { text: '\u03c4\u03c4WW', size: 18, italic: true, gap: 3 },
        { text: ')', size: 18 },
        { text: '[fb]', size: 18, gap: 5.7 },
      ],
      0,
      0
    );
    ctx.restore();

    // colour bar
    const cbL = 502;
    const cbR = 520.5;
    const cbT = a.top;
    const cbB = a.bottom;
    const grad = ctx.createLinearGradient(0, cbB, 0, cbT);
    viridisStops.forEach((c, i) => grad.addColorStop(i / 10, c));
    ctx.fillStyle = grad;
    ctx.fillRect(cbL, cbT, cbR - cbL, cbB - cbT);
    ctx.lineWidth = 1.1;
    ctx.strokeRect(cbL, cbT, cbR - cbL, cbB - cbT);
    ctx.fillStyle = '#000';
    ctx.font = `13.9px ${FONT}`;
    ctx.textBaseline = 'middle';
    colorTicks.forEach((v) => {
      const py = Math.round(cbB - ((v - maMin) / (maMax - maMin)) * (cbB - cbT)) + 0.5;
      ctx.beginPath();
      ctx.moveTo(cbR, py);
      ctx.lineTo(cbR + 4.9, py);
      ctx.stroke();
      ctx.fillText(String(v), cbR + 9.8, py);
    });
    ctx.textBaseline = 'alphabetic';
    ctx.save();
    ctx.translate(579, (cbT + cbB) / 2);
    ctx.rotate(-Math.PI / 2);
    drawRuns(
      ctx,
      [
        { text: 'M', size: 18, italic: true },
        { text: 'A', size: 12.6, italic: true, dy: 2.8 },
        { text: '[GeV]', size: 18, gap: 6 },
      ],
      0,
      0
    );
    ctx.restore();
    ctx.restore();
  },
};

const App: React.FC = () => {
  const canvasRef = useRef<HTMLCanvasElement | null>(null);

  useEffect(() => {
    if (!canvasRef.current) return;
    const points = [
      ...leftFan, ...fanFill, ...gapPoints, ...blueLobe, ...lobeFill, ...holePoints,
      ...greenLobe, ...greenFill, ...rightLobe, ...rightFill, ...yellowTail,
      ...tealBand, ...tealFill, ...upperBand, ...upperFill,
    ];

    const chart = new Chart(canvasRef.current, {
      type: 'scatter',
      data: {
        datasets: [
          {
            data: points.map(([x, e]) => ({ x, y: Math.pow(10, e) })),
            pointBackgroundColor: points.map((p) => viridis((p[2] - maMin) / (maMax - maMin))),
            pointBorderWidth: 0,
            pointRadius: 2.8,
            pointHoverRadius: 2.8,
          },
        ],
      },
      options: {
        responsive: false,
        animation: false,
        devicePixelRatio: 1,
        events: [],
        layout: { padding: { left: 0, top: 58, right: 163, bottom: 0 } },
        plugins: { legend: { display: false }, tooltip: { enabled: false } },
        scales: {
          x: {
            type: 'linear',
            min: 65.5,
            max: 727,
            afterBuildTicks: (s: any) => {
              s.ticks = xTicks.map((value) => ({ value }));
            },
            afterFit: (s: any) => {
              s.height = 53;
            },
            border: { display: false },
            grid: { drawOnChartArea: false, drawTicks: true, tickLength: 4.9, tickColor: '#000', tickWidth: 1.1 },
            ticks: { autoSkip: false, maxRotation: 0, padding: 3, color: '#000', font: { family: 'DejaVu Sans', size: 13.9 } },
          },
          y: {
            type: 'logarithmic',
            min: 1e-6,
            max: 1e2,
            afterBuildTicks: (s: any) => {
              s.ticks = yDecades.map((k) => ({ value: Math.pow(10, k) }));
            },
            afterFit: (s: any) => {
              s.width = 80;
            },
            border: { display: false },
            grid: { drawOnChartArea: false, drawTicks: true, tickLength: 4.9, tickColor: '#000', tickWidth: 1.1 },
            ticks: { autoSkip: false, callback: () => '', font: { size: 1 } },
          },
        },
      },
      plugins: [decorations],
    } as any);

    return () => {
      chart.destroy();
    };
  }, []);

  return (
    <div style={{ position: 'absolute', left: 0, top: 0, width: 640, height: 480, background: '#fff' }}>
      <canvas ref={canvasRef} width={640} height={480} />
    </div>
  );
};

export default App;
